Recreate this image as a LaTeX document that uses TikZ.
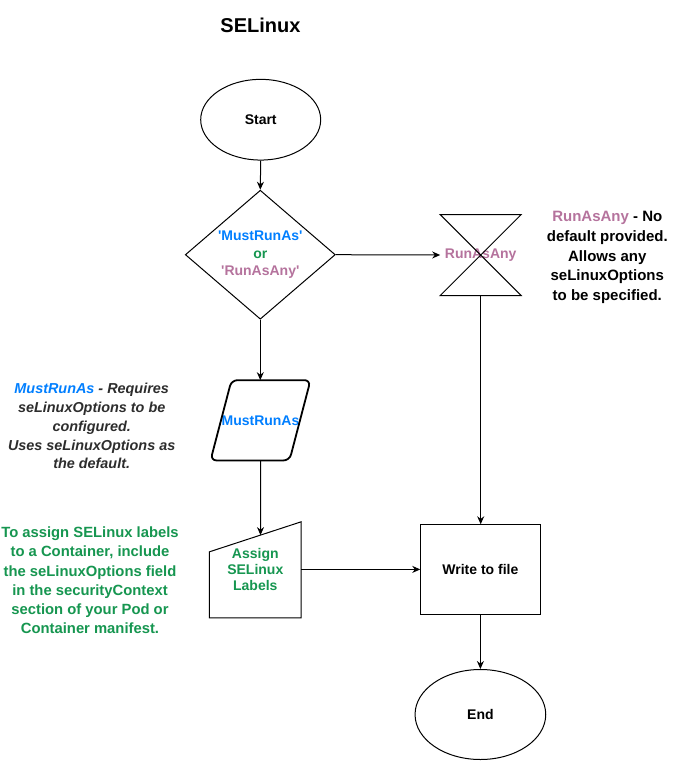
\documentclass[tikz,border=0pt]{standalone}
\usepackage{fontspec}
\setmainfont{Liberation Sans}
\usetikzlibrary{arrows.meta,shapes.geometric,calc}

\definecolor{runblue}{RGB}{0,127,255}
\definecolor{anypurple}{RGB}{181,115,157}
\definecolor{notegreen}{RGB}{22,150,80}
\definecolor{notegray}{RGB}{45,45,45}

\tikzset{
  base/.style={draw=black, line width=1pt, inner sep=0pt, align=center,
    font=\fontsize{14}{17.5}\selectfont\bfseries},
  terminal/.style={base, ellipse},
  decision/.style={base, diamond, minimum width=150, minimum height=129, aspect=1.16},
  process/.style={base, rectangle},
  holder/.style={base, draw=none, rectangle},
  arr/.style={line width=1pt, -{Stealth[length=8pt,width=7pt]}},
  note/.style={align=center, inner sep=0pt},
}

\begin{document}
\begin{tikzpicture}[x=1pt, y=-1pt]
  \fill[white] (0,0) rectangle (681,761);
  \useasboundingbox (0,0) rectangle (681,761);

  % title
  \node[note, font=\fontsize{20}{24}\selectfont\bfseries] (title) at (260.5,25.5) {SELinux};

  % main flow
  \node[terminal, minimum width=120, minimum height=80.7] (start) at (260.7,119.7) {Start};

  \node[decision] (choice) at (260.3,254.7)
    {\textcolor{runblue}{\textquotesingle MustRunAs\textquotesingle}\\
     \textcolor{notegreen}{or}\\
     \textcolor{anypurple}{\textquotesingle RunAsAny\textquotesingle}};

  % hourglass (collate) box for RunAsAny
  \node[holder, minimum width=80, minimum height=80, text=anypurple] (runany) at (480.7,255) {RunAsAny};
  \draw[line width=1pt] (runany.north west) -- (runany.north east)
     -- (runany.south west) -- (runany.south east) -- cycle;

  % parallelogram for MustRunAs
  \node[holder, minimum width=99, minimum height=79.3, text=runblue] (mustrun) at (260.5,420.3) {MustRunAs};
  \draw[line width=1.8pt, rounded corners=6pt]
     ($(mustrun.north west)+(21,0)$) -- (mustrun.north east)
     -- ($(mustrun.south east)+(-21,0)$) -- (mustrun.south west) -- cycle;

  % manual input shape
  \node[holder, minimum width=90.7, minimum height=95, text=notegreen,
        font=\fontsize{14}{16}\selectfont\bfseries] (assign) at (255.3,569.8) {Assign\\SELinux\\Labels};
  \coordinate (aTL) at ($(assign.north west)+(0,30)$);
  \coordinate (aTR) at (assign.north east);
  \draw[line width=1pt] (assign.south west) -- (aTL) -- (aTR) -- (assign.south east) -- cycle;

  \node[process, minimum width=119.3, minimum height=89.3] (write) at (480.4,569.4) {Write to file};

  \node[terminal, minimum width=130.7, minimum height=90] (finish) at (480.4,714.5) {End};

  % connectors
  \draw[arr] (start.south) -- (choice.north);
  \draw[arr] (choice.east) -- (runany.west);
  \draw[arr] (choice.south) -- (choice.south |- mustrun.north);
  \draw[arr] (mustrun.south) -- (intersection of aTL--aTR and mustrun.south--mustrun.north);
  \draw[arr] (runany.south) -- (runany.south |- write.north);
  \draw[arr] (assign.east |- write.west) -- (write.west);
  \draw[arr] (write.south) -- (finish.north);

  % notes
  \node[note, text=black, font=\fontsize{15}{19.6}\selectfont\bfseries] (anynote) at (607.3,257.5)
    {\textcolor{anypurple}{RunAsAny} - No\\default provided.\\Allows any\\seLinuxOptions\\to be specified.};

  \node[note, text=notegray, font=\fontsize{14.4}{18.9}\selectfont\bfseries\itshape] (mustnote) at (91.7,426)
    {\textcolor{runblue}{MustRunAs} - Requires\\seLinuxOptions to be\\configured.\\Uses seLinuxOptions as\\the default.};

  \node[note, text=notegreen, font=\fontsize{14.8}{19.2}\selectfont\bfseries] (labelnote) at (90,580.5)
    {To assign SELinux labels\\to a Container, include\\the seLinuxOptions field\\in the securityContext\\section of your Pod or\\Container manifest.};
\end{tikzpicture}
\end{document}
